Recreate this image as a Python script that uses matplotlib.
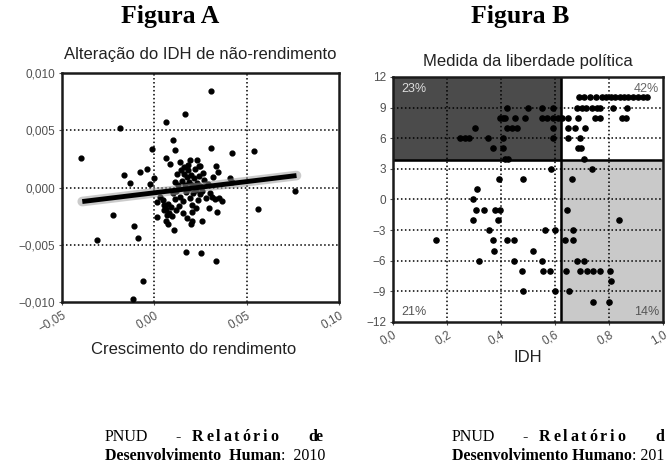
import matplotlib
matplotlib.use("Agg")
import matplotlib.pyplot as plt
from matplotlib.patches import Rectangle

# Figura A: crescimento do rendimento vs alteração do IDH de não-rendimento
growth = [
    -0.0397, -0.0186, 0.0305, 0.0166, 0.0061, 0.0100, -0.0011, 0.0305, 0.0423, 0.0542,
    0.0112, 0.0061, 0.0085, 0.0139, 0.0193, 0.0230, -0.0164, -0.0132, -0.0077, -0.0041,
    0.0000, -0.0023, 0.0112, 0.0248, 0.0265, 0.0333, 0.0347, 0.0410, 0.0423, 0.0762,
    -0.0222, -0.0312, -0.0108, -0.0090, -0.0063, -0.0117, 0.0563, 0.0172, 0.0251, 0.0334,
    0.0013, 0.0062, 0.0076, 0.0108, 0.0157, 0.0202, 0.0175, 0.0202, 0.0199, 0.0256,
    0.0298, 0.0338, 0.0013,
    0.0030, 0.0045, 0.0055, 0.0065, 0.0075, 0.0080, 0.0090, 0.0095, 0.0070, 0.0050,
    0.0100, 0.0110, 0.0120, 0.0130, 0.0140, 0.0150, 0.0155, 0.0160, 0.0165, 0.0170,
    0.0175, 0.0180, 0.0185, 0.0190, 0.0195, 0.0200, 0.0205, 0.0210, 0.0215, 0.0220,
    0.0225, 0.0230, 0.0235, 0.0240, 0.0245, 0.0250, 0.0260, 0.0270, 0.0280, 0.0290,
    0.0300, 0.0315, 0.0320, 0.0330, 0.0350, 0.0365, 0.0185, 0.0160, 0.0125, 0.0145,
    0.0135, 0.0115, 0.0205, 0.0225, 0.0240,
]
hdi_change = [
    0.0026, 0.0052, 0.0084, 0.0064, 0.0057, 0.0042, 0.0034, 0.0035, 0.0030, 0.0032,
    0.0033, 0.0026, 0.0021, 0.0022, 0.0024, 0.0024, 0.0011, 0.0004, 0.0014, 0.0016,
    0.0008, 0.0003, 0.0005, 0.0019, 0.0013, 0.0019, 0.0014, 0.0008, 0.0005, -0.0003,
    -0.0024, -0.0046, -0.0034, -0.0044, -0.0082, -0.0097, -0.0019, -0.0056, -0.0057, -0.0064,
    -0.0026, -0.0029, -0.0032, -0.0037, -0.0022, -0.0021, -0.0027, -0.0029, -0.0032, -0.0029,
    -0.0018, -0.0021, -0.0013,
    -0.0008, -0.0011, -0.0015, -0.0019, -0.0014, -0.0022, -0.0017, -0.0025, -0.0024, -0.0020,
    -0.0005, -0.0010, -0.0003, 0.0002, -0.0008, 0.0006, -0.0012, 0.0012, 0.0002, -0.0004,
    0.0009, 0.0015, -0.0001, 0.0005, -0.0009, 0.0011, 0.0002, -0.0005, 0.0008, 0.0016,
    -0.0002, 0.0004, -0.0011, 0.0010, -0.0006, 0.0001, -0.0003, 0.0007, -0.0009, 0.0003,
    -0.0005, -0.0008, 0.0009, -0.0010, -0.0009, -0.0012, 0.0020, 0.0018, 0.0012, 0.0015,
    -0.0016, -0.0020, -0.0015, -0.0018, 0.0019,
]
trend_x = [-0.039, 0.077]
trend_y = [-0.00122, 0.00105]

# Figura B: IDH vs medida da liberdade política
idh = [
    0.690, 0.709, 0.730, 0.752, 0.773, 0.789, 0.806, 0.822, 0.841, 0.856, 0.871, 0.890, 0.908, 0.927, 0.940,
    0.680, 0.699, 0.715, 0.736, 0.754, 0.767, 0.816, 0.866, 0.423, 0.501, 0.551, 0.594,
    0.409, 0.452, 0.489, 0.551, 0.569, 0.594, 0.612, 0.625, 0.649, 0.686, 0.748, 0.767, 0.847, 0.863, 0.396, 0.415,
    0.421, 0.440, 0.458, 0.594, 0.649, 0.674, 0.711, 0.304,
    0.409, 0.594, 0.649, 0.693, 0.248, 0.267, 0.283, 0.353,
    0.406, 0.686, 0.696, 0.371,
    0.707, 0.415, 0.426,
    0.736, 0.584,
    0.483, 0.662, 0.394,
    0.310,
    0.295,
    0.307, 0.337, 0.378, 0.396, 0.643,
    0.298, 0.390, 0.837,
    0.357, 0.563, 0.600, 0.665,
    0.159, 0.369, 0.421, 0.448, 0.637, 0.665,
    0.374, 0.520,
    0.319, 0.448, 0.551, 0.683, 0.707,
    0.477, 0.554, 0.581, 0.641, 0.693, 0.720, 0.742, 0.767, 0.804,
    0.806,
    0.483, 0.600, 0.653,
    0.742, 0.801,
]
freedom = (
    [10] * 15 + [9] * 12 + [8] * 16 + [7] * 8 + [6] * 8 + [5] * 4 + [4] * 3
    + [3] * 2 + [2] * 3 + [1] + [0] + [-1] * 5 + [-2] * 3 + [-3] * 4 + [-4] * 6
    + [-5] * 2 + [-6] * 5 + [-7] * 9 + [-8] + [-9] * 3 + [-10] * 2
)
quadrant_pct = ["23%", "42%", "21%", "14%"]
idh_cut = 0.622
freedom_cut = 3.85

# source notes; the right-hand one is cut by the page edge in the original
notes = [
    (105, ["Relatório", "de"], "Desenvolvimento  Human", ":  2010"),
    (452, ["Relatório", "d"], "Desenvolvimento Humano", ": 201"),
]

GRID = dict(color="black", linestyle=(0, (1, 1.6)), linewidth=1.1)
TICK_COLOR = "#505050"
SANS = "Liberation Sans"
SERIF = "Liberation Serif"
W, H = 670, 468

plt.rcParams["font.family"] = SANS

fig = plt.figure(figsize=(6.7, 4.68), dpi=100)

# ---- Figura A ----
axA = fig.add_axes([0.0925, 0.3547, 0.4134, 0.489])
axA.set_xlim(-0.05, 0.10)
axA.set_ylim(-0.010, 0.010)
for v in [0.0, 0.05]:
    axA.axvline(v, zorder=1, **GRID)
for v in [0.005, 0.0, -0.005]:
    axA.axhline(v, zorder=1, **GRID)
axA.scatter(growth, hdi_change, s=12, color="black", zorder=3)
axA.plot(trend_x, trend_y, color="#999999", lw=7, alpha=0.5, solid_capstyle="round", zorder=4)
axA.plot(trend_x, trend_y, color="black", lw=3.5, solid_capstyle="butt", zorder=5)
axA.set_xticks([-0.05, 0.0, 0.05, 0.10])
axA.set_xticklabels(["\u22120,05", "0,00", "0,05", "0,10"], rotation=30, ha="right",
                    rotation_mode="anchor")
axA.set_yticks([0.010, 0.005, 0.0, -0.005, -0.010])
axA.set_yticklabels(["0,010", "0,005", "0,000", "\u22120,005", "\u22120,010"])
axA.set_title("Alteração do IDH de não-rendimento", fontsize=12, color="#222222", pad=10)
axA.set_xlabel("Crescimento do rendimento", fontsize=12, color="#222222", labelpad=10)
axA.xaxis.set_label_coords(0.475, -0.175)

# ---- Figura B ----
axB = fig.add_axes([0.5866, 0.312, 0.403, 0.5235])
axB.set_xlim(0, 1)
axB.set_ylim(-12, 12)
axB.add_patch(Rectangle((0, freedom_cut), idh_cut, 12 - freedom_cut, color="#4b4b4b", zorder=0))
axB.add_patch(Rectangle((idh_cut, -12), 1 - idh_cut, freedom_cut + 12, color="#c9c9c9", zorder=0))
for v in [0.2, 0.4, 0.6, 0.8]:
    axB.axvline(v, zorder=1, **GRID)
for v in [9, 6, 3, 0, -3, -6, -9]:
    axB.axhline(v, zorder=1, **GRID)
axB.axvline(idh_cut, color="black", lw=1.8, zorder=2)
axB.axhline(freedom_cut, color="black", lw=1.8, zorder=2)
axB.scatter(idh, freedom, s=14, color="black", zorder=3)
axB.set_xticks([0, 0.2, 0.4, 0.6, 0.8, 1.0])
axB.set_xticklabels(["0,0", "0,2", "0,4", "0,6", "0,8", "1,0"], rotation=30, ha="right",
                    rotation_mode="anchor")
axB.set_yticks([12, 9, 6, 3, 0, -3, -6, -9, -12])
axB.set_yticklabels(["12", "9", "6", "3", "0", "\u22123", "\u22126", "\u22129", "\u221212"])
axB.set_title("Medida da liberdade política", fontsize=12, color="#222222", pad=8)
axB.set_xlabel("IDH", fontsize=12, color="#222222", labelpad=2)
axB.text(0.03, 10.8, quadrant_pct[0], color="#dddddd", fontsize=9, va="center")
axB.text(0.985, 10.8, quadrant_pct[1], color="#666666", fontsize=9, va="center", ha="right")
axB.text(0.03, -11.0, quadrant_pct[2], color="#555555", fontsize=9, va="center")
axB.text(0.985, -11.0, quadrant_pct[3], color="#555555", fontsize=9, va="center", ha="right")

for ax in (axA, axB):
    for sp in ax.spines.values():
        sp.set_linewidth(1.8)
        sp.set_color("#1a1a1a")
    ax.tick_params(length=2, width=0.8, colors=TICK_COLOR, labelsize=8.5, pad=3)

# headings
fig.text(170 / W, 1 - 17 / H, "Figura A", family=SERIF, weight="bold", fontsize=18.5,
         ha="center", va="center")
fig.text(520 / W, 1 - 17 / H, "Figura B", family=SERIF, weight="bold", fontsize=18.5,
         ha="center", va="center")

# source notes (justified first line, letters spread out)
renderer = fig.canvas.get_renderer()
NOTE = dict(family=SERIF, fontsize=11.5, va="center")


def spread(x_start, x_end, y, word, **kw):
    widths = []
    for ch in word:
        t = fig.text(0, 0, ch, **kw)
        widths.append(t.get_window_extent(renderer=renderer).width)
        t.remove()
    gap = (x_end - x_start - sum(widths)) / max(len(word) - 1, 1)
    x = x_start
    for ch, w in zip(word, widths):
        fig.text(x / W, y, ch, **kw)
        x += w + gap


y1 = 1 - 437 / H
y2 = 1 - 456 / H
for x0, words, bold_part, tail in notes:
    fig.text(x0 / W, y1, "PNUD", **NOTE)
    fig.text((x0 + 70) / W, y1, "-", **NOTE)
    spread(x0 + 87, x0 + 173, y1, words[0], weight="bold", **NOTE)
    spread(x0 + 203, x0 + 218, y1, words[1], weight="bold", **NOTE)
    t = fig.text(x0 / W, y2, bold_part, weight="bold", **NOTE)
    bb = t.get_window_extent(renderer=renderer)
    fig.text(bb.x1 / W, y2, tail, **NOTE)

fig.savefig("out.png", dpi=100)
